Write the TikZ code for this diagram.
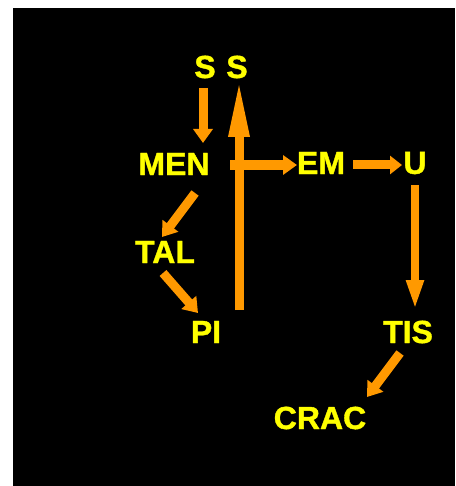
\documentclass[tikz,border=0pt]{standalone}
\usepackage{fontspec}
\setmainfont{Liberation Sans}[BoldFeatures={FakeBold=1.2}]
\usetikzlibrary{arrows.meta,calc}
\definecolor{lbl}{HTML}{FFFF00}
\definecolor{flow}{HTML}{FF9900}
\tikzset{
  word/.style={font=\bfseries\fontsize{32}{32}\selectfont, text=lbl, inner sep=0pt, anchor=center},
  arr/.style={draw=flow, line width=9pt, -{Triangle[length=14pt,width=19pt]}},
}
\begin{document}
\begin{tikzpicture}[x=1pt, y=-1pt]
  \useasboundingbox (0,0) rectangle (455,486);
  \fill[black] (13,8) rectangle (455,486);

  % labels
  \node[word] (S1)   at (205,67)  {S};
  \node[word] (S2)   at (237,67)  {S};
  \node[word] (MEN)  at (174,164) {MEN};
  \node[word] (EM)   at (321,163) {EM};
  \node[word] (U)    at (415,163) {U};
  \node[word] (TAL)  at (165,252) {TAL};
  \node[word] (PI)   at (206,332) {PI};
  \node[word] (TIS)  at (408,332) {TIS};
  \node[word] (CRAC) at (320,418) {CRAC};

  % connectors
  \draw[arr] ($(S1)+(-2,21)$) -- ($(MEN)+(29,-21)$);
  \draw[arr, -{Triangle[length=58pt,width=19pt]}] ($(PI)+(33,-22)$) -- ($(S2)+(2,12)$);
  \draw[arr, line width=10pt] ($(MEN)+(56,1)$) -- ($(EM)+(-24,2)$);
  \draw[arr, -{Triangle[length=12pt,width=18pt]}] ($(EM)+(32,2)$) -- ($(U)+(-13,2)$);
  \draw[arr, line width=8pt, -{Triangle[length=30pt,width=16pt]}] ($(U)+(0,22)$) -- ($(TIS)+(7,-22)$);
  \draw[arr] ($(MEN)+(21,29)$) -- ($(TAL)+(-3,-15)$);
  \draw[arr] ($(TAL)+(-2,21)$) -- ($(PI)+(-8,-19)$);
  \draw[arr] ($(TIS)+(-8,21)$) -- ($(CRAC)+(47,-21)$);
\end{tikzpicture}
\end{document}
